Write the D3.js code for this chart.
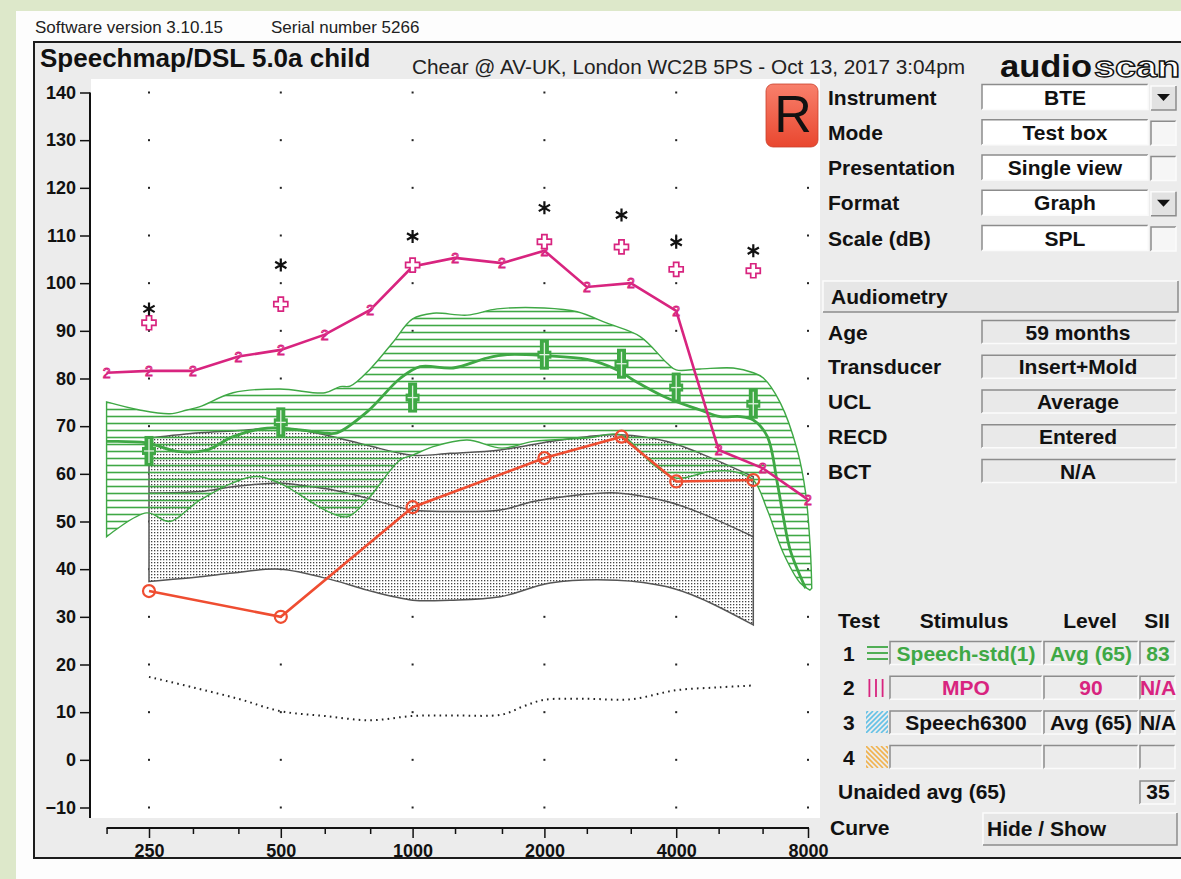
<!DOCTYPE html>
<html>
<head>
<meta charset="utf-8">
<script src="https://cdn.jsdelivr.net/npm/d3@7"></script>
<style>
  html, body { margin: 0; padding: 0; background: #fff; }
  svg text { font-family: "Liberation Sans", Arial, Helvetica, sans-serif; }
</style>
</head>
<body>
<div id="chart"></div>
<script>
// ---- data ----
const octaveLabels = [250, 500, 1000, 2000, 4000, 8000];
const thirdOctaveTicks = [200, 250, 315, 400, 500, 630, 800, 1000, 1250, 1600, 2000, 2500, 3150, 4000, 5000, 6300, 8000];
const dbTicks = [-10, 0, 10, 20, 30, 40, 50, 60, 70, 80, 90, 100, 110, 120, 130, 140];

// test 2: measured MPO curve (1/3 octave)
const mpoHz = [200, 250, 315, 400, 500, 630, 800, 1000, 1250, 1600, 2000, 2500, 3150, 4000, 5000, 6300, 8000];
const mpoDb = [81.2, 81.6, 81.6, 84.6, 86, 89.2, 94.4, 103.5, 105.3, 104.2, 106.8, 99.2, 100, 94.2, 65, 61.2, 54.6];

// audiometric frequencies
const auditHz = [250, 500, 1000, 2000, 3000, 4000, 6000];
const uclDb = [94.6, 103.8, 109.8, 115.8, 114.3, 108.6, 106.8];
const mpoTargetDb = [91.7, 95.6, 103.8, 108.7, 107.6, 102.9, 102.6];
const speechTargetDb = [64.8, 70.8, 76, 85, 83.1, 78.1, 74.7];
const unaidedDb = [35.4, 30, 53, 63.3, 67.8, 58.4, 58.7];

// threshold (dotted)
const threshHz = [250, 315, 400, 500, 630, 800, 1000, 1250, 1600, 1800, 2000, 2500, 3150, 4000, 5000, 6000];
const threshDb = [17.4, 15.2, 12.8, 10.2, 9.2, 8.3, 9.2, 9.3, 9.5, 11.3, 12.6, 12.8, 12.7, 14.6, 15.2, 15.6];

// test 1: aided speech band (Speech-std(1) Avg 65)
const speechTop = [[200,75.1],[238,73.4],[279,72.6],[305,73.4],[327,74.1],[389,77],[498,77.8],[631,77],[683,78.3],[720,78.4],[800,82],[900,87.5],[1000,92.5],[1114,93.7],[1332,93.3],[1560,94.6],[2000,94.8],[2376,94],[2781,91.6],[3310,88.8],[3815,83.2],[4000,81.8],[4537,82],[5400,82.2],[6000,81.2],[6325,80.1],[6916,74.9],[7560,65],[7900,56],[8100,44],[8160,36]];
const speechBottom = [[200,46.8],[247,51.8],[279,50],[327,54.5],[432,59.4],[498,58],[631,52.4],[709,51],[787,54.5],[936,62.9],[1000,63.9],[1114,65.7],[1332,67.1],[1600,65.4],[1886,66.8],[2504,67.5],[2980,68.2],[3544,61.9],[4000,59.1],[4783,60.5],[5400,60.5],[6000,58.7],[6460,52.4],[7025,43.4],[7680,37.1],[8080,35.6]];
const speechMean = [[200,66.8],[247,66.5],[290,64.7],[339,65],[389,67.8],[465,69.6],[553,69.2],[624,68.6],[672,68.6],[787,73],[936,80],[1040,82.5],[1238,82.2],[1480,84.3],[1644,85],[2000,84.8],[2504,84],[2932,81.8],[3190,79.7],[3815,75.9],[4537,73.4],[5042,72],[5604,72],[6000,71.3],[6460,67.8],[6810,58],[7025,51],[7286,44],[7900,36]];

// dotted grey region
const grayTop = [[250,67.5],[327,68.6],[389,69],[498,69.6],[553,69.2],[658,67.8],[787,66],[1000,63.9],[1218,64.3],[1585,65],[2062,66.8],[2504,67.8],[2980,68.2],[3815,66.8],[4537,64.3],[6000,59.4]];
const grayMid = [[250,56],[327,56.3],[389,57.3],[498,58.1],[553,57.6],[658,56.6],[787,54.9],[1000,52.4],[1218,52.1],[1585,52.4],[1886,54.2],[2255,55.3],[2932,56],[3815,54.2],[4537,51.8],[6000,46.8]];
const grayBottom = [[250,37.4],[327,38.4],[389,39.2],[498,40],[658,37.7],[787,35.6],[1000,33.5],[1218,33.5],[1585,34.2],[2062,37.1],[2932,37.7],[3815,36.3],[4537,33.9],[6000,28.3]];

// right panel
const settingLabels = ["Instrument", "Mode", "Presentation", "Format", "Scale (dB)"];
const settingValues = ["BTE", "Test box", "Single view", "Graph", "SPL"];
const settingControls = ["drop", "check", "check", "drop", "check"];
const audioLabels = ["Age", "Transducer", "UCL", "RECD", "BCT"];
const audioValues = ["59 months", "Insert+Mold", "Average", "Entered", "N/A"];
const testIds = ["1", "2", "3", "4"];
const testStimulus = ["Speech-std(1)", "MPO", "Speech6300", ""];
const testLevel = ["Avg (65)", "90", "Avg (65)", ""];
const testSii = ["83", "N/A", "N/A", ""];

const W = 1181, H = 879;
const GREEN = "#3fa845", MAGENTA = "#d8247f", ORANGE = "#ef4d31", GREYLINE = "#555";
const FONT = '"Liberation Sans", Arial, Helvetica, sans-serif';

const svg = d3.select("#chart").append("svg").attr("width", W).attr("height", H);
const defs = svg.append("defs");

const hatch = defs.append("pattern").attr("id", "hatch").attr("patternUnits", "userSpaceOnUse")
  .attr("width", 10).attr("height", 7);
hatch.append("line").attr("x1", 0).attr("x2", 10).attr("y1", 3.5).attr("y2", 3.5)
  .attr("stroke", GREEN).attr("stroke-width", 1.6);

const dots = defs.append("pattern").attr("id", "dots").attr("patternUnits", "userSpaceOnUse")
  .attr("width", 3).attr("height", 3);
dots.append("rect").attr("width", 3).attr("height", 3).attr("fill", "#fff");
dots.append("rect").attr("x", 1).attr("y", 1).attr("width", 1.3).attr("height", 1.3).attr("fill", "#444");

const rGrad = defs.append("linearGradient").attr("id", "rgrad").attr("x1", 0).attr("x2", 0).attr("y1", 0).attr("y2", 1);
rGrad.append("stop").attr("offset", "0%").attr("stop-color", "#f8806c");
rGrad.append("stop").attr("offset", "100%").attr("stop-color", "#e9472f");

// page background
svg.append("rect").attr("width", W).attr("height", H).attr("fill", "#dde8ca");
svg.append("rect").attr("x", 16).attr("y", 11).attr("width", W).attr("height", H).attr("fill", "#fdfdfd");

svg.append("text").attr("x", 35).attr("y", 33).attr("font-size", 17).attr("fill", "#222")
  .text("Software version 3.10.15");
svg.append("text").attr("x", 271).attr("y", 33).attr("font-size", 17).attr("fill", "#222")
  .text("Serial number 5266");

// frame
svg.append("rect").attr("x", 34).attr("y", 42).attr("width", W).attr("height", 816)
  .attr("fill", "#ececec").attr("stroke", "#1c1c1c").attr("stroke-width", 2);

svg.append("text").attr("x", 40).attr("y", 67).attr("font-size", 26).attr("font-weight", "bold")
  .attr("fill", "#111").text("Speechmap/DSL 5.0a child");
svg.append("text").attr("x", 412).attr("y", 74).attr("font-size", 20).attr("fill", "#222")
  .attr("textLength", 553).attr("lengthAdjust", "spacingAndGlyphs")
  .text("Chear @ AV-UK, London WC2B 5PS - Oct 13, 2017 3:04pm");
svg.append("text").attr("x", 1000).attr("y", 77).attr("font-size", 32).attr("font-weight", 900)
  .attr("fill", "#111").attr("textLength", 92).attr("lengthAdjust", "spacingAndGlyphs").text("audio");
svg.append("text").attr("x", 1094).attr("y", 77).attr("font-size", 30).attr("font-weight", "bold")
  .attr("fill", "#fff").attr("stroke", "#111").attr("stroke-width", 1.3)
  .attr("textLength", 86).attr("lengthAdjust", "spacingAndGlyphs").text("scan");

// plot area
svg.append("rect").attr("x", 91).attr("y", 79).attr("width", 729).attr("height", 739).attr("fill", "#fff");

const x = d3.scaleLog().base(2).domain([250, 8000]).range([149, 808]);
const y = d3.scaleLinear().domain([-10, 140]).range([807.5, 92.5]);

const plot = svg.append("g");

// grid dots
const grid = [];
octaveLabels.forEach(f => dbTicks.forEach(v => grid.push([f, v])));
plot.selectAll(".gdot").data(grid).enter().append("rect").attr("class", "gdot")
  .attr("x", d => x(d[0]) - 1).attr("y", d => y(d[1]) - 1).attr("width", 2).attr("height", 2).attr("fill", "#222");

const curve = d3.line().x(d => x(d[0])).y(d => y(d[1])).curve(d3.curveCatmullRom.alpha(0.5));
function bandPath(top, bottom) {
  const a = curve(top);
  const b = curve(bottom.slice().reverse());
  return a + "L" + b.slice(1) + "Z";
}

// grey dotted region
plot.append("path").attr("d", bandPath(grayTop, grayBottom))
  .attr("fill", "url(#dots)").attr("stroke", GREYLINE).attr("stroke-width", 1.5);
plot.append("path").attr("d", curve(grayMid)).attr("fill", "none").attr("stroke", GREYLINE).attr("stroke-width", 1.5);

// green aided speech band
plot.append("path").attr("d", bandPath(speechTop, speechBottom))
  .attr("fill", "url(#hatch)").attr("stroke", GREEN).attr("stroke-width", 1.4);
plot.append("path").attr("d", curve(speechMean)).attr("fill", "none")
  .attr("stroke", GREEN).attr("stroke-width", 2.8);

// threshold dotted line
const lin = d3.line().x(d => x(d[0])).y(d => y(d[1])).curve(d3.curveCatmullRom.alpha(0.5));
plot.append("path").attr("d", lin(threshHz.map((f, i) => [f, threshDb[i]])))
  .attr("fill", "none").attr("stroke", "#222").attr("stroke-width", 2).attr("stroke-dasharray", "1.6,4.2");

// unaided (orange)
const straight = d3.line().x(d => x(d[0])).y(d => y(d[1]));
const unaided = auditHz.map((f, i) => [f, unaidedDb[i]]);
plot.append("path").attr("d", straight(unaided)).attr("fill", "none")
  .attr("stroke", ORANGE).attr("stroke-width", 2.6);
plot.selectAll(".ucirc").data(unaided).enter().append("circle")
  .attr("cx", d => x(d[0])).attr("cy", d => y(d[1])).attr("r", 6)
  .attr("fill", "none").attr("stroke", ORANGE).attr("stroke-width", 2.2);

// MPO curve with "2" markers
const mpo = mpoHz.map((f, i) => [f, mpoDb[i]]);
plot.append("path").attr("d", straight(mpo)).attr("fill", "none")
  .attr("stroke", MAGENTA).attr("stroke-width", 2.6);
plot.selectAll(".m2").data(mpo).enter().append("text")
  .attr("x", d => x(d[0])).attr("y", d => y(d[1]) + 5).attr("text-anchor", "middle")
  .attr("font-size", 14).attr("fill", "#fff").attr("stroke", MAGENTA).attr("stroke-width", 1)
  .text("2");

// green speech targets
const st = auditHz.map((f, i) => [f, speechTargetDb[i]]);
const stg = plot.selectAll(".st").data(st).enter().append("g")
  .attr("transform", d => `translate(${x(d[0])},${y(d[1])})`);
stg.append("rect").attr("x", -4.5).attr("y", -15).attr("width", 9).attr("height", 30).attr("fill", GREEN);
stg.append("rect").attr("x", -7).attr("y", -4).attr("width", 14).attr("height", 8).attr("fill", GREEN);
stg.append("line").attr("x1", 0).attr("x2", 0).attr("y1", -12).attr("y2", 12).attr("stroke", "#dff2df").attr("stroke-width", 1.3);
stg.append("line").attr("x1", -5).attr("x2", 5).attr("y1", 0).attr("y2", 0).attr("stroke", "#dff2df").attr("stroke-width", 1.3);

// MPO targets (hollow plus)
const a = 2.6, L = 7;
const plusPath = `M${-a},${-L}H${a}V${-a}H${L}V${a}H${a}V${L}H${-a}V${a}H${-L}V${-a}H${-a}Z`;
plot.selectAll(".mt").data(auditHz.map((f, i) => [f, mpoTargetDb[i]])).enter().append("path")
  .attr("transform", d => `translate(${x(d[0])},${y(d[1])})`).attr("d", plusPath)
  .attr("fill", "#fff").attr("stroke", MAGENTA).attr("stroke-width", 1.7);

// UCL asterisks
const r = 6.5, c = 0.866 * r, s = 0.5 * r;
const astPath = `M0,${-r}V${r}M${-c},${-s}L${c},${s}M${-c},${s}L${c},${-s}`;
plot.selectAll(".ucl").data(auditHz.map((f, i) => [f, uclDb[i]])).enter().append("path")
  .attr("transform", d => `translate(${x(d[0])},${y(d[1])})`).attr("d", astPath)
  .attr("fill", "none").attr("stroke", "#111").attr("stroke-width", 2.2);

// axes
const gy = svg.append("g").attr("transform", "translate(90,0)")
  .call(d3.axisLeft(y).tickValues(dbTicks).tickSize(10).tickPadding(4).tickSizeOuter(0));
gy.select(".domain").remove();
gy.append("line").attr("x1", 0).attr("x2", 0).attr("y1", y(140)).attr("y2", 818)
  .attr("stroke", "#111").attr("stroke-width", 2);
gy.attr("font-family", FONT).attr("font-size", 18).attr("font-weight", "bold");
gy.selectAll(".tick line").attr("stroke", "#111").attr("stroke-width", 1.5);
gy.selectAll(".tick text").attr("fill", "#111");

const gx = svg.append("g").attr("transform", "translate(0,828)")
  .call(d3.axisBottom(x).tickValues(thirdOctaveTicks).tickSize(6).tickSizeOuter(0)
    .tickFormat(d => octaveLabels.includes(d) ? d : ""));
gx.select(".domain").remove();
gx.append("line").attr("x1", x(200)).attr("x2", x(8000) + 1).attr("y1", 0).attr("y2", 0)
  .attr("stroke", "#111").attr("stroke-width", 2);
gx.attr("font-family", FONT).attr("font-size", 18).attr("font-weight", "bold");
gx.selectAll(".tick line").attr("y2", d => octaveLabels.includes(d) ? 10 : 6)
  .attr("stroke", "#111").attr("stroke-width", 1.5);
gx.selectAll(".tick text").attr("y", 16).attr("fill", "#111");

// R button
svg.append("rect").attr("x", 766).attr("y", 84).attr("width", 52).attr("height", 63).attr("rx", 7)
  .attr("fill", "url(#rgrad)").attr("stroke", "#c9402c").attr("stroke-width", 0.8);
svg.append("text").attr("x", 793).attr("y", 132).attr("text-anchor", "middle")
  .attr("font-size", 52).attr("fill", "#111").text("R");

// ---- right panel ----
const panel = svg.append("g").attr("font-family", FONT);

function box(x0, y0, w, h, fill, sunken) {
  panel.append("rect").attr("x", x0).attr("y", y0).attr("width", w).attr("height", h).attr("fill", fill);
  panel.append("path").attr("d", `M${x0},${y0 + h}V${y0}H${x0 + w}`).attr("fill", "none")
    .attr("stroke", sunken ? "#8c8c8c" : "#fbfbfb").attr("stroke-width", 1.5);
  panel.append("path").attr("d", `M${x0 + w},${y0}V${y0 + h}H${x0}`).attr("fill", "none")
    .attr("stroke", sunken ? "#fbfbfb" : "#8c8c8c").attr("stroke-width", 1.5);
}
function label(x0, y0, t, opts = {}) {
  return panel.append("text").attr("x", x0).attr("y", y0).attr("font-size", 21).attr("font-weight", "bold")
    .attr("fill", opts.fill || "#111").attr("text-anchor", opts.anchor || "start").text(t);
}

settingLabels.forEach((t, i) => {
  const cy = 97 + i * 35.25;
  label(828, cy + 7.5, t);
  box(982, cy - 12.5, 166, 25, "#fff", true);
  label(1065, cy + 7.5, settingValues[i], { anchor: "middle" });
  box(1151, cy - 11, 25, 24, settingControls[i] === "drop" ? "#e2e2e2" : "#f6f6f6", settingControls[i] !== "drop");
  if (settingControls[i] === "drop") {
    panel.append("path").attr("d", `M${1157},${cy - 3}H${1170}L${1163.5},${cy + 4}Z`).attr("fill", "#111");
  }
});

box(823, 281, 355, 31, "#e6e6e6", false);
label(831, 304, "Audiometry");

audioLabels.forEach((t, i) => {
  const cy = 332 + i * 34.75;
  label(828, cy + 7.5, t);
  box(982, cy - 11.5, 194, 23, "#e9e9e9", true);
  label(1078, cy + 7.5, audioValues[i], { anchor: "middle" });
});

label(838, 628, "Test");
label(964, 628, "Stimulus", { anchor: "middle" });
label(1090, 628, "Level", { anchor: "middle" });
label(1157, 628, "SII", { anchor: "middle" });

const rowFill = [GREEN, MAGENTA, "#111", "#111"];
testIds.forEach((t, i) => {
  const cy = 653 + i * 34.7;
  label(843, cy + 7.5, t);
  box(890, cy - 11.5, 152, 23, "#ececec", true);
  box(1044, cy - 11.5, 94, 23, "#ececec", true);
  box(1140, cy - 11.5, 35, 23, "#ececec", true);
  label(966, cy + 7.5, testStimulus[i], { anchor: "middle", fill: rowFill[i] });
  label(1091, cy + 7.5, testLevel[i], { anchor: "middle", fill: rowFill[i] });
  label(1158, cy + 7.5, testSii[i], { anchor: "middle", fill: rowFill[i] });
});

// row icons
[-6, 0, 6].forEach(d => {
  panel.append("line").attr("x1", 867).attr("x2", 888).attr("y1", 653 + d).attr("y2", 653 + d)
    .attr("stroke", GREEN).attr("stroke-width", 1.8);
  panel.append("line").attr("x1", 876 + d * 1.1).attr("x2", 876 + d * 1.1).attr("y1", 679).attr("y2", 697)
    .attr("stroke", MAGENTA).attr("stroke-width", 1.8);
});
function hatchIcon(id, cy, color, dir) {
  defs.append("clipPath").attr("id", id).append("rect")
    .attr("x", 866).attr("y", cy - 11).attr("width", 22).attr("height", 22);
  const g = panel.append("g").attr("clip-path", `url(#${id})`);
  for (let k = -4; k <= 4; k++) {
    const x0 = 877 + k * 5;
    g.append("line").attr("x1", x0 - 11).attr("x2", x0 + 11)
      .attr("y1", dir > 0 ? cy + 11 : cy - 11).attr("y2", dir > 0 ? cy - 11 : cy + 11)
      .attr("stroke", color).attr("stroke-width", 1.6);
  }
}
hatchIcon("ic3", 722, "#63c1e6", 1);
hatchIcon("ic4", 757, "#f0b24e", -1);

label(838, 799, "Unaided avg (65)");
box(1140, 781, 35, 23, "#ececec", true);
label(1158, 799, "35", { anchor: "middle" });

label(830, 835, "Curve");
box(983, 813, 194, 32, "#e6e6e6", false);
label(987, 836, "Hide / Show");
</script>
</body>
</html>
